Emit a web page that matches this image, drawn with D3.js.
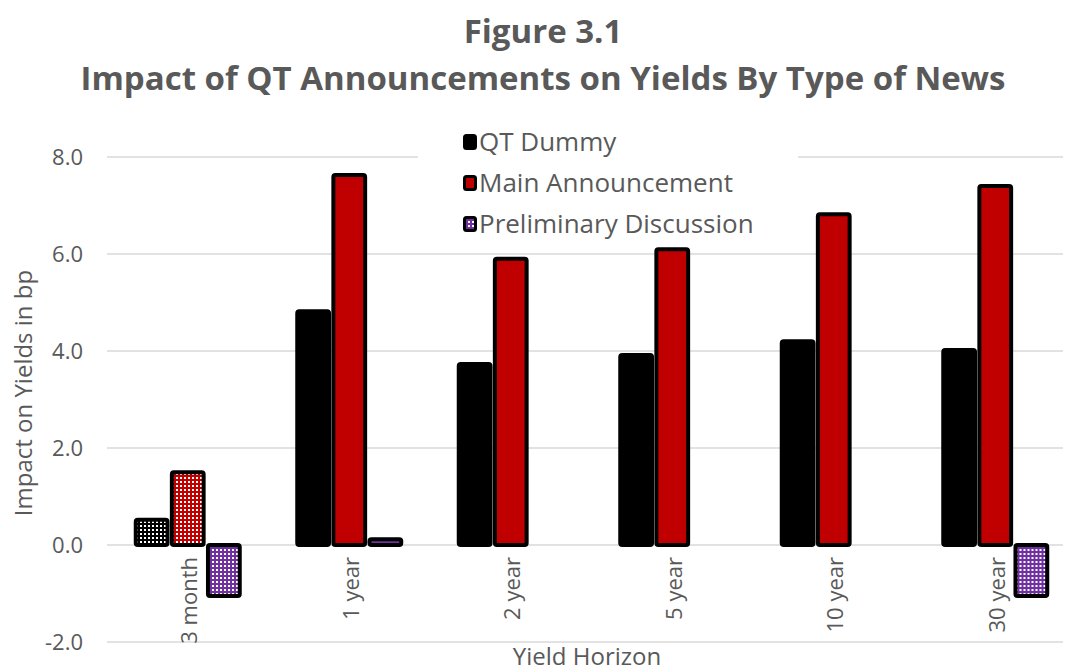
<!DOCTYPE html>
<html>
<head>
<meta charset="utf-8">
<script src="https://cdn.jsdelivr.net/npm/d3@7"></script>
<style>
  body { margin: 0; background: #fff; }
  text { font-family: "Open Sans", sans-serif; fill: #595959; }
</style>
</head>
<body>
<svg width="1066" height="671"></svg>
<script>
var categories = ["3 month", "1 year", "2 year", "5 year", "10 year", "30 year"];
var seriesNames = ["QT Dummy", "Main Announcement", "Preliminary Discussion"];
var qtDummy = [0.52, 4.82, 3.73, 3.92, 4.2, 4.02];
var mainAnn = [1.5, 7.63, 5.9, 6.1, 6.82, 7.4];
var prelim = [-1.05, 0.12, 0, 0, 0, -1.05];
var yTicks = [-2, 0, 2, 4, 6, 8];

var colors = ["#000000", "#c00000", "#7030a0"];
var values = [qtDummy, mainAnn, prelim];

var svg = d3.select("svg"),
    width = +svg.attr("width"),
    height = +svg.attr("height");

// white dotted fills (used by the 3 month bars and negative discussion bars)
var defs = svg.append("defs");
colors.forEach(function(c, i) {
  var p = defs.append("pattern")
      .attr("id", "dots" + i)
      .attr("patternUnits", "userSpaceOnUse")
      .attr("width", 4).attr("height", 4);
  p.append("rect").attr("width", 4).attr("height", 4).attr("fill", c);
  p.append("rect").attr("x", 1).attr("y", 1).attr("width", 2).attr("height", 2).attr("fill", "#fff");
});

var y = d3.scaleLinear().domain([-2, 8]).range([642, 157]);
var x0 = d3.scaleBand().domain(categories).range([107, 1076]);
var x1 = d3.scaleBand().domain(seriesNames)
    .range([x0.bandwidth() / 2 - 52, x0.bandwidth() / 2 + 52])
    .paddingInner(0.12);

var fmt = function(d) { return d3.format(".1f")(d).replace("\u2212", "-"); };

// titles
svg.append("text").attr("x", 543).attr("y", 43)
    .attr("text-anchor", "middle").style("font-size", "33px").style("font-weight", "bold")
    .text("Figure 3.1");
svg.append("text").attr("x", 543).attr("y", 90)
    .attr("text-anchor", "middle").style("font-size", "33px").style("font-weight", "bold")
    .text("Impact of QT Announcements on Yields By Type of News");

// gridlines
svg.append("g").selectAll("line")
  .data(yTicks)
  .enter().append("line")
    .attr("x1", 107).attr("x2", 1063)
    .attr("y1", function(d) { return y(d); })
    .attr("y2", function(d) { return y(d); })
    .attr("stroke", "#d9d9d9").attr("stroke-width", 1.3);

// y tick labels
svg.append("g").selectAll("text")
  .data(yTicks)
  .enter().append("text")
    .attr("x", 83).attr("y", function(d) { return y(d); })
    .attr("dy", "0.35em").attr("text-anchor", "end")
    .style("font-size", "22px")
    .text(fmt);

// bars (zero values draw nothing)
var groups = svg.append("g").selectAll("g")
  .data(categories)
  .enter().append("g")
    .attr("transform", function(d) { return "translate(" + x0(d) + ",0)"; });

groups.selectAll("rect")
  .data(function(d, ci) {
    return seriesNames.map(function(s, si) { return {s: s, si: si, ci: ci, v: values[si][ci]}; })
      .filter(function(b) { return b.v !== 0; });
  })
  .enter().append("rect")
    .attr("x", function(d) { return x1(d.s); })
    .attr("width", x1.bandwidth())
    .attr("y", function(d) { return y(Math.max(0, d.v)); })
    .attr("height", function(d) { return Math.abs(y(d.v) - y(0)); })
    .attr("rx", 2)
    .attr("fill", function(d) {
      if (d.ci === 0 || (d.si === 2 && d.v < 0)) return "url(#dots" + d.si + ")";
      return colors[d.si];
    })
    .attr("stroke", "#000").attr("stroke-width", 4);

// category labels
svg.append("g").selectAll("text")
  .data(categories)
  .enter().append("text")
    .attr("transform", function(d) { return "translate(" + (x0(d) + x0.bandwidth() / 2 + 2) + ",557) rotate(-90)"; })
    .attr("dy", "0.35em")
    .attr("text-anchor", "end")
    .style("font-size", "22px")
    .text(function(d) { return d; });

// axis titles
svg.append("text")
    .attr("transform", "translate(24,393) rotate(-90)")
    .attr("dy", "0.35em")
    .attr("text-anchor", "middle").style("font-size", "24px")
    .text("Impact on Yields in bp");
svg.append("text").attr("x", 587).attr("y", 665)
    .attr("text-anchor", "middle").style("font-size", "24px")
    .text("Yield Horizon");

// legend
var legend = svg.append("g");
legend.append("rect").attr("x", 418).attr("y", 122).attr("width", 380).attr("height", 120).attr("fill", "#fff");
var leg = legend.selectAll("g")
  .data(seriesNames)
  .enter().append("g")
    .attr("transform", function(d, i) { return "translate(463," + (142 + i * 41) + ")"; });
leg.append("rect")
    .attr("x", 1.5).attr("y", -6.5).attr("width", 11).attr("height", 13).attr("rx", 2)
    .attr("fill", function(d, i) { return i === 2 ? "url(#dots2)" : colors[i]; })
    .attr("stroke", "#000").attr("stroke-width", 3);
leg.append("text")
    .attr("x", 16).attr("dy", "0.35em")
    .style("font-size", "26px")
    .text(function(d) { return d; });
</script>
</body>
</html>
